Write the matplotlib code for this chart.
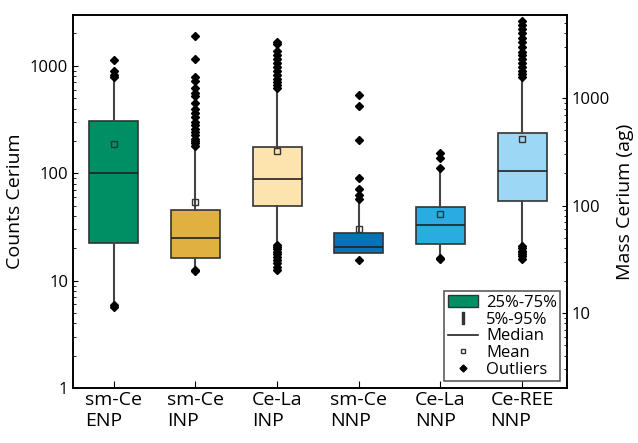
import matplotlib
matplotlib.use("Agg")
import matplotlib.pyplot as plt
from matplotlib.patches import Patch
from matplotlib.lines import Line2D

plt.rcParams['font.family'] = ['Open Sans', 'DejaVu Sans']

labels = ["sm-Ce\nENP", "sm-Ce\nINP", "Ce-La\nINP", "sm-Ce\nNNP", "Ce-La\nNNP", "Ce-REE\nNNP"]
q1 = [22.3, 16.2, 50, 18, 22, 55]
med = [100, 25, 88, 20.5, 33, 104]
q3 = [305, 45, 174, 27.6, 48, 235]
mean = [186, 54, 160, 30, 41.5, 207]
wlo = [5.8, 12.5, 22, 18, 16.5, 22]
whi = [765, 174, 590, 56, 109, 750]
outliers = [
    [5.7, 5.9, 780, 820, 900, 1130],
    [12.2, 12.6, 180, 190, 200, 210, 225, 240, 260, 280, 300, 330, 360, 400, 450, 520, 560, 620, 720, 780, 1150, 1900],
    [12.5, 13.5, 14.5, 15.5, 16.5, 17.5, 18.5, 19.5, 20.5, 21.5, 620, 660, 700, 760, 820, 900, 980, 1060, 1150, 1250, 1380, 1600, 1650],
    [15.5, 58, 62, 72, 90, 205, 420, 535],
    [15.8, 16.4, 112, 138, 155],
    [16, 16.8, 17.5, 18.3, 19, 20, 21, 780, 840, 900, 980, 1060, 1150, 1250, 1350, 1500, 1650, 1800, 2000, 2200, 2400, 2600],
]
colors = ["#008F64", "#E0B040", "#FDE4AE", "#0474B8", "#2AABE2", "#9CD7F5"]

fig = plt.figure(figsize=(6.38, 4.43), dpi=100)
ax = fig.add_axes([73/638, 1-388/443, (567-73)/638, (388-15)/443])

stats = []
for i in range(len(labels)):
    stats.append(dict(q1=q1[i], med=med[i], q3=q3[i], mean=mean[i],
                      whislo=wlo[i], whishi=whi[i], fliers=outliers[i]))
bp = ax.bxp(stats, positions=range(1, 7), widths=0.6, patch_artist=True, showmeans=True,
            showcaps=False,
            boxprops=dict(edgecolor="#333333", linewidth=1.2),
            medianprops=dict(color="#222222", linewidth=1.2),
            whiskerprops=dict(color="#444444", linewidth=1.5),
            meanprops=dict(marker="s", markersize=4, markerfacecolor="none", markeredgecolor="#333333", markeredgewidth=1),
            flierprops=dict(marker="D", markersize=4, markerfacecolor="black", markeredgecolor="black"))
for p, c in zip(bp['boxes'], colors):
    p.set_facecolor(c)

ax.set_yscale('log')
ax.set_ylim(1, 2970)
ax.set_xlim(0.5, 6.55)
ax.set_xticks(range(1, 7))
ax.set_xticklabels(labels, fontsize=14, ha='center', multialignment='left')
ax.set_yticks([1, 10, 100, 1000])
ax.set_yticklabels(["1", "10", "100", "1000"], fontsize=12)
ax.set_ylabel("Counts Cerium", fontsize=14)
ax.tick_params(direction='in', which='both')
ax.tick_params(axis='x', length=5, pad=2)

ax2 = ax.twinx()
ax2.set_yscale('log')
ax2.set_ylim(1*2, 2970*2)
ax2.set_yticks([10, 100, 1000])
ax2.set_yticklabels(["10", "100", "1000"], fontsize=12)
ax2.set_ylabel("Mass Cerium (ag)", fontsize=14)
ax2.tick_params(direction='in', which='both')
for a in (ax, ax2):
    for s in a.spines.values():
        s.set_linewidth(1.2)

handles = [Patch(facecolor=colors[0], edgecolor="#333333", label="25%-75%"),
           Line2D([], [], marker="$\\mathrm{I}$", linestyle="none", color="#333333", markersize=8, label="5%-95%"),
           Line2D([], [], color="#222222", linewidth=1.2, label="Median"),
           Line2D([], [], marker="s", markersize=3.5, markerfacecolor="none", markeredgecolor="#333333", linestyle="none", label="Mean"),
           Line2D([], [], marker="D", markersize=3.5, color="black", linestyle="none", label="Outliers")]
leg = ax2.legend(handles=handles, loc="lower right", fontsize=12, frameon=True, fancybox=False,
                 edgecolor="#333333", handlelength=1.8, borderpad=0.2, labelspacing=0.05,
                 handletextpad=0.5, borderaxespad=0.4)
leg.get_frame().set_linewidth(1.2)
fig.savefig("out.png", dpi=100)
